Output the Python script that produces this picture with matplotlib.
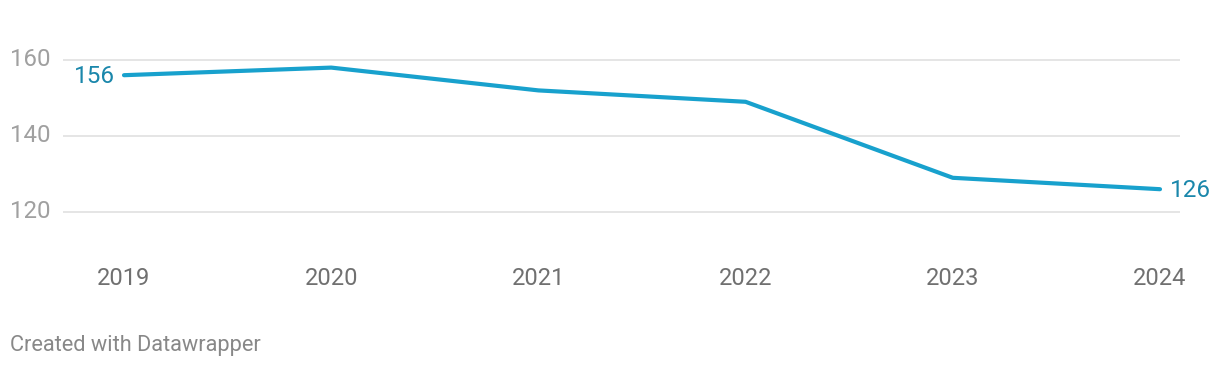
import matplotlib
matplotlib.use("Agg")
import matplotlib.pyplot as plt

years = [2019, 2020, 2021, 2022, 2023, 2024]
values = [156, 158, 152, 149, 129, 126]
yticks = [120, 140, 160]

plt.rcParams['font.family'] = ['Roboto', 'DejaVu Sans']

fig = plt.figure(figsize=(12.2, 3.68), dpi=100)
ax = fig.add_axes([63/1220, 1-250/368, 1117/1220, 220/368])

line_color = '#18a1cd'
label_color = '#1a87ab'

for y in yticks:
    ax.axhline(y, color='#e3e3e3', lw=1.3, zorder=0)

ax.plot(years, values, color=line_color, lw=3, solid_capstyle='round', zorder=3)

ax.set_xlim(2019 - 61/207.2, 2024 + 20/207.2)
ax.set_ylim(160 - 190/3.8, 160 + 30/3.8)

for s in ax.spines.values():
    s.set_visible(False)
ax.set_yticks([])
ax.set_xticks(years)
ax.set_xticklabels([str(y) for y in years])
ax.tick_params(axis='x', length=0, pad=12, labelsize=17, labelcolor='#707070')

for y in yticks:
    ax.annotate(str(y), xy=(0, y), xycoords=('figure fraction', 'data'),
                xytext=(10, 0), textcoords='offset pixels',
                ha='left', va='center', fontsize=17.3, color='#a0a0a0')

ax.annotate(str(values[0]), xy=(years[0], values[0]), xytext=(-9, -1.5),
            textcoords='offset pixels', ha='right', va='center',
            fontsize=17.5, color=label_color)
ax.annotate(str(values[-1]), xy=(years[-1], values[-1]), xytext=(10, -1.5),
            textcoords='offset pixels', ha='left', va='center',
            fontsize=17.5, color=label_color)

fig.text(10/1220, 1-346/368, 'Created with Datawrapper', ha='left', va='center',
         fontsize=15.7, color='#888888')

fig.savefig('out.png', dpi=100)
